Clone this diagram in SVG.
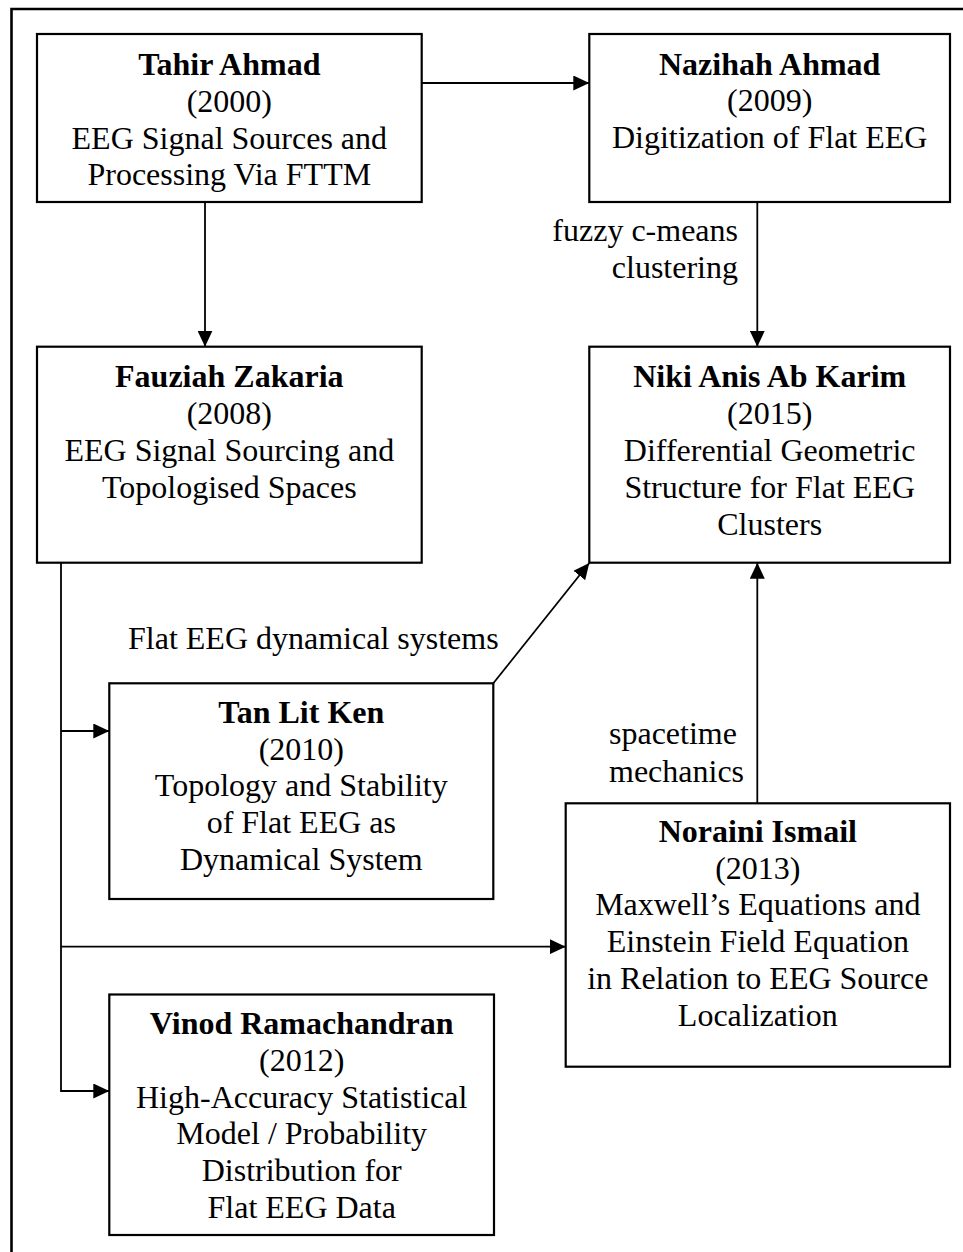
<svg xmlns="http://www.w3.org/2000/svg" width="963" height="1252" viewBox="0 0 963 1252">
<style>
.box{fill:#fff;stroke:#000;stroke-width:2.2}
.con{fill:none;stroke:#000;stroke-width:1.8}
.t{font-family:"Liberation Serif","Times New Roman",serif;font-size:32px;fill:#000;text-anchor:middle}
.b{font-weight:bold}
.lbl{font-family:"Liberation Serif","Times New Roman",serif;font-size:32px;fill:#000}
</style>
<defs>
<marker id="arr" markerUnits="userSpaceOnUse" markerWidth="17" markerHeight="15" refX="16" refY="7.5" orient="auto">
<path d="M0,0 L16,7.5 L0,15 Z" fill="#000"/>
</marker>
</defs>
<rect width="963" height="1252" fill="#fff"/>
<path d="M11.5,1260 V9 H970" fill="none" stroke="#000" stroke-width="2.6"/>

<g id="connectors">
<path class="con" d="M421.7,83 H589.3" marker-end="url(#arr)"/>
<path class="con" d="M205,202 V346.7" marker-end="url(#arr)"/>
<path class="con" d="M757.3,202 V346.7" marker-end="url(#arr)"/>
<path class="con" d="M493.3,683.3 L589.3,563" marker-end="url(#arr)"/>
<path class="con" d="M757.3,803.3 V562.7" marker-end="url(#arr)"/>
<path class="con" d="M61,562.7 V1091 H109.3" marker-end="url(#arr)"/>
<path class="con" d="M61,731 H109.3" marker-end="url(#arr)"/>
<path class="con" d="M61,946.7 H565.7" marker-end="url(#arr)"/>
<text class="lbl" x="738" y="240.5" text-anchor="end">fuzzy c-means</text>
<text class="lbl" x="738" y="277.5" text-anchor="end">clustering</text>
<text class="lbl" x="128" y="649">Flat EEG dynamical systems</text>
<text class="lbl" x="609" y="744">spacetime</text>
<text class="lbl" x="609" y="781.7">mechanics</text>
</g>

<g id="tahir">
<rect class="box" x="37" y="34" width="384.7" height="168"/>
<text class="t b" x="229.3" y="75">Tahir Ahmad</text>
<text class="t" x="229.3" y="111.8">(2000)</text>
<text class="t" x="229.3" y="148.6">EEG Signal Sources and</text>
<text class="t" x="229.3" y="185.4">Processing Via FTTM</text>
</g>

<g id="nazihah">
<rect class="box" x="589.3" y="34" width="360.7" height="168"/>
<text class="t b" x="769.7" y="74.5">Nazihah Ahmad</text>
<text class="t" x="769.7" y="111.3">(2009)</text>
<text class="t" x="769.7" y="148.1">Digitization of Flat EEG</text>
</g>

<g id="fauziah">
<rect class="box" x="37" y="346.7" width="384.7" height="216"/>
<text class="t b" x="229.3" y="387.3">Fauziah Zakaria</text>
<text class="t" x="229.3" y="424.1">(2008)</text>
<text class="t" x="229.3" y="460.9">EEG Signal Sourcing and</text>
<text class="t" x="229.3" y="497.7">Topologised Spaces</text>
</g>

<g id="niki">
<rect class="box" x="589.3" y="346.7" width="360.7" height="216"/>
<text class="t b" x="769.7" y="387.3">Niki Anis Ab Karim</text>
<text class="t" x="769.7" y="424.1">(2015)</text>
<text class="t" x="769.7" y="460.9">Differential Geometric</text>
<text class="t" x="769.7" y="497.7">Structure for Flat EEG</text>
<text class="t" x="769.7" y="534.5">Clusters</text>
</g>

<g id="tan">
<rect class="box" x="109.3" y="683.3" width="384" height="215.7"/>
<text class="t b" x="301.3" y="722.7">Tan Lit Ken</text>
<text class="t" x="301.3" y="759.5">(2010)</text>
<text class="t" x="301.3" y="796.3">Topology and Stability</text>
<text class="t" x="301.3" y="833.1">of Flat EEG as</text>
<text class="t" x="301.3" y="869.9">Dynamical System</text>
</g>

<g id="noraini">
<rect class="box" x="565.7" y="803.3" width="384.3" height="263.4"/>
<text class="t b" x="757.8" y="841.7">Noraini Ismail</text>
<text class="t" x="757.8" y="878.5">(2013)</text>
<text class="t" x="757.8" y="915.3">Maxwell’s Equations and</text>
<text class="t" x="757.8" y="952.1">Einstein Field Equation</text>
<text class="t" x="757.8" y="988.9">in Relation to EEG Source</text>
<text class="t" x="757.8" y="1025.7">Localization</text>
</g>

<g id="vinod">
<rect class="box" x="109.3" y="994.5" width="384.7" height="240.5"/>
<text class="t b" x="301.7" y="1034">Vinod Ramachandran</text>
<text class="t" x="301.7" y="1070.8">(2012)</text>
<text class="t" x="301.7" y="1107.6">High-Accuracy Statistical</text>
<text class="t" x="301.7" y="1144.4">Model / Probability</text>
<text class="t" x="301.7" y="1181.2">Distribution for</text>
<text class="t" x="301.7" y="1218">Flat EEG Data</text>
</g>
</svg>
